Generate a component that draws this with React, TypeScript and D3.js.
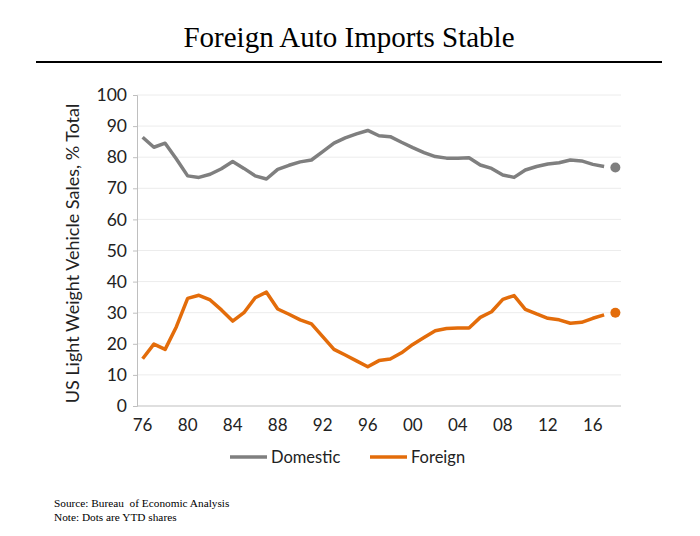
import React, { useRef, useEffect } from 'react';
import * as d3 from 'd3';

const years = d3.range(1976, 2018);
const ytdYear = 2018;

const domestic = [
	86.4, 83.2, 84.5, 79.4, 74.0, 73.5, 74.5, 76.3, 78.6, 76.4,
	74.0, 73.0, 76.1, 77.4, 78.5, 79.1, 81.8, 84.5, 86.2, 87.5,
	88.6, 86.9, 86.6, 84.8, 83.1, 81.5, 80.2, 79.7, 79.7, 79.8,
	77.5, 76.4, 74.3, 73.5, 75.9, 77.0, 77.8, 78.2, 79.1, 78.8,
	77.7, 77.0,
];
const foreign = [
	15.2, 19.9, 18.2, 25.5, 34.6, 35.6, 34.1, 30.9, 27.3, 30.0,
	34.8, 36.6, 31.2, 29.5, 27.7, 26.4, 22.3, 18.2, 16.4, 14.5,
	12.6, 14.6, 15.1, 17.1, 19.8, 22.0, 24.2, 24.9, 25.1, 25.1,
	28.5, 30.3, 34.3, 35.5, 31.1, 29.6, 28.2, 27.7, 26.6, 26.9,
	28.2, 29.3,
];
const domesticYtd = 76.7;
const foreignYtd = 30.0;

const yTicks = [0, 10, 20, 30, 40, 50, 60, 70, 80, 90, 100];
const xTickYears = [1976, 1980, 1984, 1988, 1992, 1996, 2000, 2004, 2008, 2012, 2016];

const seriesNames = ['Domestic', 'Foreign'];
const seriesColors = ['#7f7f7f', '#e36c0a'];

const chartTitle = 'Foreign Auto Imports Stable';
const yTitle = 'US Light Weight Vehicle Sales, % Total';
const notes = ['Source: Bureau  of Economic Analysis', 'Note: Dots are YTD shares'];

const FONT = 'Lato, "Open Sans", sans-serif';
const SERIF = '"Liberation Serif", "Times New Roman", serif';

const Chart: React.FC = () => {
	const chartRef = useRef<null | SVGSVGElement>(null);

	useEffect(() => {
		if (!chartRef.current) {
			return;
		}
		const svg = d3.select(chartRef.current);
		svg.selectAll('*').remove();

		const left = 137, right = 621, top = 95, bottom = 406;

		// Excel style category axis: points sit in the middle of each slot
		const x = d3.scalePoint<number>()
			.domain([...years, ytdYear])
			.range([left, right])
			.padding(0.5);
		const y = d3.scaleLinear().domain([0, 100]).range([bottom, top]);

		// Title and rule
		svg.append('text')
			.attr('x', 349)
			.attr('y', 47)
			.attr('text-anchor', 'middle')
			.style('font-family', SERIF)
			.style('font-size', '29px')
			.text(chartTitle);
		svg.append('line')
			.attr('x1', 36).attr('x2', 662)
			.attr('y1', 62).attr('y2', 62)
			.attr('stroke', '#000')
			.attr('stroke-width', 2);

		// Gridlines
		svg.append('g')
			.selectAll('line')
			.data(yTicks.filter(t => t > 0))
			.join('line')
			.attr('x1', left).attr('x2', right)
			.attr('y1', d => y(d)).attr('y2', d => y(d))
			.attr('stroke', '#ececec')
			.attr('stroke-width', 1);

		// Y axis
		const yAxis = svg.append('g')
			.attr('transform', `translate(${left}, 0)`)
			.call(d3.axisLeft(y).tickValues(yTicks).tickSize(4).tickPadding(6).tickFormat(d3.format('d')));
		yAxis.select('.domain').attr('stroke', '#bfbfbf');
		yAxis.selectAll('.tick line').attr('stroke', '#bfbfbf');
		yAxis.selectAll('text')
			.attr('fill', '#222')
			.style('font-family', FONT)
			.style('font-size', '17.5px');

		// X axis
		svg.append('line')
			.attr('x1', left).attr('x2', right)
			.attr('y1', bottom).attr('y2', bottom)
			.attr('stroke', '#bfbfbf');
		svg.append('g')
			.selectAll('text')
			.data(xTickYears)
			.join('text')
			.attr('x', d => x(d))
			.attr('y', 431)
			.attr('text-anchor', 'middle')
			.attr('fill', '#222')
			.style('font-family', FONT)
			.style('font-size', '17px')
			.text(d => String(d % 100).padStart(2, '0'));

		// Y title
		svg.append('text')
			.attr('transform', `translate(79, ${(top + bottom) / 2 + 3}) rotate(-90)`)
			.attr('text-anchor', 'middle')
			.attr('fill', '#222')
			.style('font-family', FONT)
			.style('font-size', '18px')
			.text(yTitle);

		// Lines
		const line = d3.line<number>()
			.x((_, i) => x(years[i]) as number)
			.y(d => y(d));
		[domestic, foreign].forEach((values, i) => {
			svg.append('path')
				.datum(values)
				.attr('fill', 'none')
				.attr('stroke', seriesColors[i])
				.attr('stroke-width', 3.5)
				.attr('stroke-linejoin', 'round')
				.attr('d', line);
		});

		// YTD dots
		[domesticYtd, foreignYtd].forEach((v, i) => {
			svg.append('circle')
				.attr('cx', x(ytdYear) as number)
				.attr('cy', y(v))
				.attr('r', 5)
				.attr('fill', seriesColors[i]);
		});

		// Legend
		const legendX = [230, 370];
		seriesNames.forEach((name, i) => {
			const g = svg.append('g').attr('transform', `translate(${legendX[i]}, 457)`);
			g.append('line')
				.attr('x1', 0).attr('x2', 37)
				.attr('y1', 0).attr('y2', 0)
				.attr('stroke', seriesColors[i])
				.attr('stroke-width', 3.5);
			g.append('text')
				.attr('x', 41)
				.attr('y', 6)
				.attr('fill', '#222')
				.style('font-family', FONT)
				.style('font-size', '16.5px')
				.text(name);
		});

		// Footnotes
		svg.append('g')
			.selectAll('text')
			.data(notes)
			.join('text')
			.attr('x', 54)
			.attr('y', (_, i) => 507 + i * 14)
			.style('font-family', SERIF)
			.style('font-size', '11.3px')
			.style('white-space', 'pre')
			.text(d => d);
	}, []);

	return <svg ref={chartRef} width={700} height={536} style={{ display: 'block', background: '#fff' }} />;
};

export default function App() {
	return (
		<div style={{ position: 'absolute', left: 0, top: 0 }}>
			<Chart />
		</div>
	);
}
